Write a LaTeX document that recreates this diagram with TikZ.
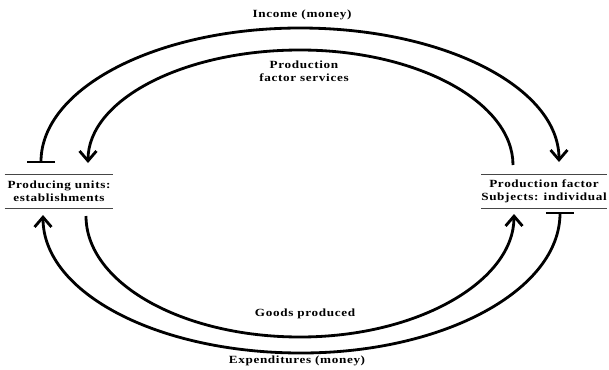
\documentclass[tikz,border=0pt]{standalone}
\usepackage{fontspec}
\setmainfont{Liberation Serif}[FakeStretch=1.2,LetterSpace=6]
\usetikzlibrary{positioning,arrows.meta}
\definecolor{RuleGray}{RGB}{70,70,70}

\begin{document}
\begin{tikzpicture}[x=0.025cm, y=-0.025cm,
    every node/.style={font=\fontsize{7.8}{9}\selectfont\bfseries, align=center},
    unitbox/.style={minimum width=2.7cm, minimum height=0.825cm, inner sep=0pt},
    flow/.style={line width=2pt, -{Straight Barb[length=7pt, width=12pt, line width=2pt]}},
    tee/.style={{Bar[width=20pt, line width=1.2pt]}-{Straight Barb[length=7pt, width=12pt, line width=2pt]}, line width=2pt},
    rule/.style={RuleGray, line width=0.9pt}]
  \useasboundingbox (0,0) rectangle (609,369);
  % the two sectors
  \node[unitbox] (pu) at (59,191.5) {Producing units:\\establishments};
  \node[unitbox] (pf) at (544,191.5) {Production factor\\Subjects: individual};
  \draw[rule] (pu.north west) -- (pu.north east);
  \draw[rule] (pu.south west) -- (pu.south east);
  \draw[rule] (pf.north west) -- (pf.north east);
  \draw[rule] (pf.south west) -- (pf.south east);
  % ends and turning points of the flows
  \coordinate (inc0) at (41,163);   \coordinate (inctop) at (300,28);  \coordinate (inc1) at (559,162);
  \coordinate (srv0) at (513,165);  \coordinate (srvtop) at (300,50);  \coordinate (srv1) at (88,163);
  \coordinate (gds0) at (86,216);   \coordinate (gdsbot) at (300,337); \coordinate (gds1) at (514,214);
  \coordinate (exp0) at (560,212);  \coordinate (expbot) at (301,353); \coordinate (exp1) at (43,215);
  \draw[tee] (inc0) .. controls +(0,-75) and +(-143,0) .. (inctop)
                    .. controls +(143,0) and +(0,-75) .. (inc1);
  \draw[flow] (srv0) .. controls +(0,-63) and +(117,0) .. (srvtop)
                     .. controls +(-117,0) and +(0,-63) .. (srv1);
  \draw[flow] (gds0) .. controls +(0,67) and +(-118,0) .. (gdsbot)
                     .. controls +(118,0) and +(0,67) .. (gds1);
  \draw[tee] (exp0) .. controls +(0,78) and +(143,0) .. (expbot)
                    .. controls +(-143,0) and +(0,78) .. (exp1);
  % flow labels
  \node (inclbl) at (302,15) {Income (money)};
  \node (srvlbl) at (304,71) {Production\\factor services};
  \node (gdslbl) at (305,314) {Goods produced};
  \node (explbl) at (297,361) {Expenditures (money)};
\end{tikzpicture}
\end{document}
